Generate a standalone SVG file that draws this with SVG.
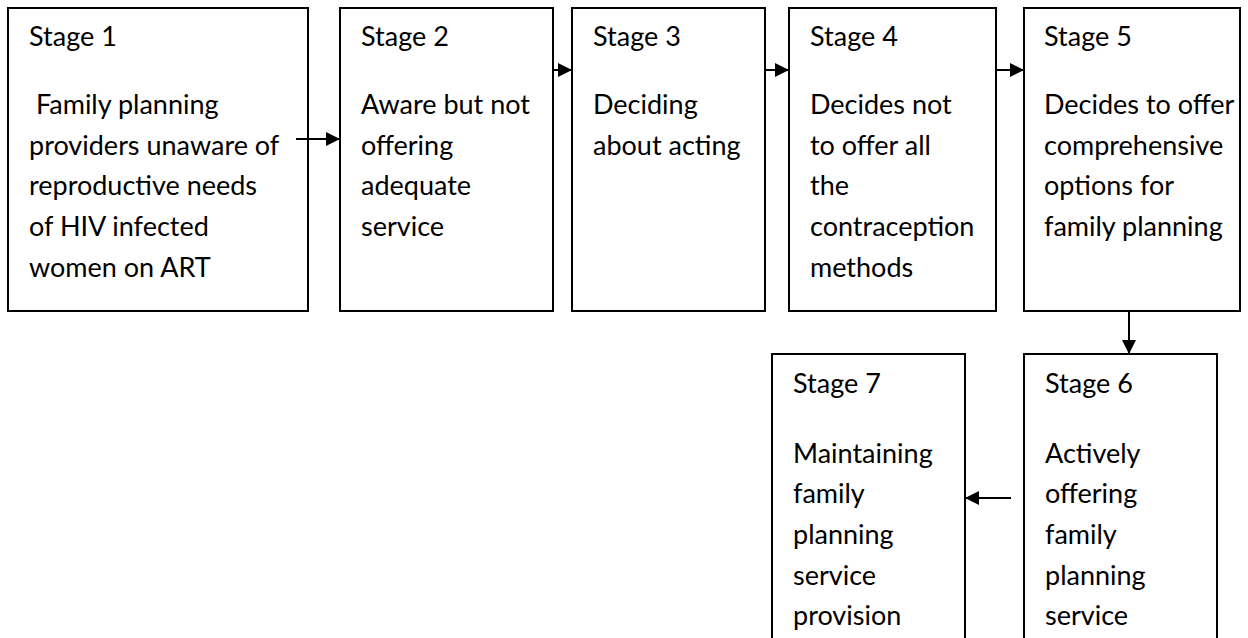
<svg xmlns="http://www.w3.org/2000/svg" width="1248" height="638" viewBox="0 0 1248 638">
<style>
.box{fill:#fff;stroke:#000;stroke-width:2}
text{font-family:Lato,"Open Sans","Liberation Sans",sans-serif;font-size:27px;fill:#000}
.conn{stroke:#000;stroke-width:2;fill:none}
</style>
<defs>
<marker id="ah" markerWidth="10" markerHeight="10" refX="10" refY="5" orient="auto" markerUnits="userSpaceOnUse" viewBox="0 0 10 10">
<path d="M0,0 L10,5 L0,10 Z" fill="#000"/>
</marker>
<marker id="ah2" markerWidth="14" markerHeight="14" refX="14" refY="7" orient="auto" markerUnits="userSpaceOnUse" viewBox="0 0 14 14">
<path d="M0,0 L14,7 L0,14 Z" fill="#000"/>
</marker>
</defs>
<rect width="1248" height="638" fill="#fff"/>
<g id="stage1">
<rect class="box" x="8" y="8" width="300" height="303"/>
<text x="29" y="46">Stage 1</text>
<text x="29" y="114" xml:space="preserve"> Family planning</text>
<text x="29" y="155">providers unaware of</text>
<text x="29" y="195">reproductive needs</text>
<text x="29" y="236">of HIV infected</text>
<text x="29" y="277">women on ART</text>
</g>
<g id="stage2">
<rect class="box" x="340" y="8" width="213" height="303"/>
<text x="361" y="46">Stage 2</text>
<text x="361" y="114">Aware but not</text>
<text x="361" y="155">offering</text>
<text x="361" y="195">adequate</text>
<text x="361" y="236">service</text>
</g>
<g id="stage3">
<rect class="box" x="572" y="8" width="193" height="303"/>
<text x="593" y="46">Stage 3</text>
<text x="593" y="114">Deciding</text>
<text x="593" y="155">about acting</text>
</g>
<g id="stage4">
<rect class="box" x="789" y="8" width="207" height="303"/>
<text x="810" y="46">Stage 4</text>
<text x="810" y="114">Decides not</text>
<text x="810" y="155">to offer all</text>
<text x="810" y="195">the</text>
<text x="810" y="236">contraception</text>
<text x="810" y="277">methods</text>
</g>
<g id="stage5">
<rect class="box" x="1024" y="8" width="216" height="303"/>
<text x="1044" y="46">Stage 5</text>
<text x="1044" y="114">Decides to offer</text>
<text x="1044" y="155">comprehensive</text>
<text x="1044" y="195">options for</text>
<text x="1044" y="236">family planning</text>
</g>
<g id="stage6">
<rect class="box" x="1024" y="354" width="193" height="300"/>
<text x="1045" y="393">Stage 6</text>
<text x="1045" y="463">Actively</text>
<text x="1045" y="503">offering</text>
<text x="1045" y="544">family</text>
<text x="1045" y="585">planning</text>
<text x="1045" y="625">service</text>
</g>
<g id="stage7">
<rect class="box" x="772" y="354" width="193" height="300"/>
<text x="793" y="393">Stage 7</text>
<text x="793" y="463">Maintaining</text>
<text x="793" y="503">family</text>
<text x="793" y="544">planning</text>
<text x="793" y="585">service</text>
<text x="793" y="625">provision</text>
</g>
<g id="connectors">
<line class="conn" x1="296" y1="139" x2="340" y2="139" marker-end="url(#ah2)"/>
<line class="conn" x1="553" y1="70" x2="572" y2="70" marker-end="url(#ah2)"/>
<line class="conn" x1="765" y1="70" x2="789" y2="70" marker-end="url(#ah2)"/>
<line class="conn" x1="996" y1="70" x2="1024" y2="70" marker-end="url(#ah2)"/>
<line class="conn" x1="1129" y1="311" x2="1129" y2="354" marker-end="url(#ah2)"/>
<line class="conn" x1="1011" y1="498" x2="965" y2="498" marker-end="url(#ah2)"/>
</g>
</svg>
